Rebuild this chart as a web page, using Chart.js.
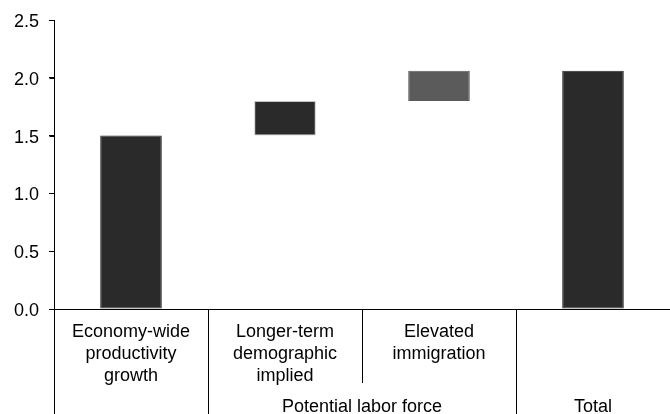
<!DOCTYPE html>
<html>
<head>
<meta charset="utf-8">
<script src="https://cdn.jsdelivr.net/npm/chart.js@4"></script>
<style>
  html, body { margin: 0; padding: 0; background: #fff; }
  canvas { display: block; }
</style>
</head>
<body>
<canvas id="waterfall" width="670" height="414"></canvas>
<script>
// category labels (multi-line) for the bars
const categories = [
    ['Economy-wide', 'productivity', 'growth'],
    ['Longer-term', 'demographic', 'implied'],
    ['Elevated', 'immigration'],
    ''
];
// floating bar ranges (bottom, top)
const barLow  = [0, 1.5, 1.8, 0];
const barHigh = [1.5, 1.8, 2.06, 2.06];
const barColors  = ['#2a2a2a', '#2a2a2a', '#5b5b5b', '#2a2a2a'];
const barBorders = ['#2a2a2a', '#c4c4c4', '#5b5b5b', '#2a2a2a'];
const yTicks = [0, 0.5, 1.0, 1.5, 2.0, 2.5];
// second-row group labels, spanning category indexes
const groupLabels = ['Potential labor force', 'Total'];
const groupFrom = [1, 3];
const groupTo   = [2, 3];

const FONT = '"Liberation Sans", Arial, sans-serif';

const groupRows = {
    id: 'groupRows',
    afterDraw(chart) {
        const c = chart.ctx;
        const xs = chart.scales.x;
        const ys = chart.scales.y;
        const area = chart.chartArea;
        const half = (xs.getPixelForValue(1) - xs.getPixelForValue(0)) / 2;
        const edge = i => xs.getPixelForValue(i) - half;
        const bottom = chart.height;
        const axisX = Math.round(area.left - 0.5) + 0.5;

        c.save();
        c.strokeStyle = '#000';
        c.lineWidth = 1;

        // outside tick marks on the value axis
        ys.ticks.forEach(t => {
            const py = Math.round(ys.getPixelForValue(t.value)) + 0.5;
            c.beginPath();
            c.moveTo(axisX - 5, py);
            c.lineTo(axisX, py);
            c.stroke();
        });

        const vline = (x, y2) => {
            const px = Math.round(x) + 0.5;
            c.beginPath();
            c.moveTo(px, area.bottom);
            c.lineTo(px, y2);
            c.stroke();
        };
        // y axis continues down through the label rows
        vline(area.left - 0.5, bottom);
        // separators between categories
        for (let i = 1; i < categories.length; i++) {
            const inGroup = groupFrom.some((f, g) => i > f && i <= groupTo[g]);
            vline(edge(i), inGroup ? 383 : bottom);
        }

        c.fillStyle = '#000';
        c.font = '18px ' + FONT;
        c.textAlign = 'center';
        c.textBaseline = 'alphabetic';
        groupLabels.forEach((label, g) => {
            const x0 = edge(groupFrom[g]);
            const x1 = edge(groupTo[g] + 1);
            c.fillText(label, (x0 + x1) / 2, 412);
        });
        c.restore();
    }
};

new Chart(document.getElementById('waterfall').getContext('2d'), {
    type: 'bar',
    data: {
        labels: categories,
        datasets: [{
            data: barLow.map((lo, i) => [lo, barHigh[i]]),
            backgroundColor: barColors,
            borderColor: barBorders,
            borderWidth: 1,
            borderSkipped: false,
            barPercentage: 0.4,
            categoryPercentage: 1.0
        }]
    },
    options: {
        responsive: false,
        animation: false,
        layout: { padding: { top: 20, right: 0, left: 0, bottom: 0 } },
        plugins: {
            legend: { display: false },
            tooltip: { enabled: false }
        },
        scales: {
            x: {
                afterFit: s => { s.height = 105; },
                grid: { display: false, drawTicks: false },
                border: { display: true, color: '#000', width: 1 },
                ticks: {
                    color: '#000',
                    padding: 12,
                    maxRotation: 0,
                    autoSkip: false,
                    font: { family: FONT, size: 18, lineHeight: 1.22 }
                }
            },
            y: {
                min: 0,
                max: 2.5,
                afterFit: s => { s.width = 54; s.paddingTop = 0; s.paddingBottom = 0; },
                afterBuildTicks: s => { s.ticks = yTicks.map(v => ({ value: v })); },
                grid: { drawOnChartArea: false, tickLength: 5, color: '#000' },
                border: { display: true, color: '#000', width: 1 },
                ticks: {
                    color: '#000',
                    padding: 10,
                    labelOffset: 2,
                    font: { family: FONT, size: 18 },
                    callback: v => Number(v).toFixed(1)
                }
            }
        }
    },
    plugins: [groupRows]
});
</script>
</body>
</html>
